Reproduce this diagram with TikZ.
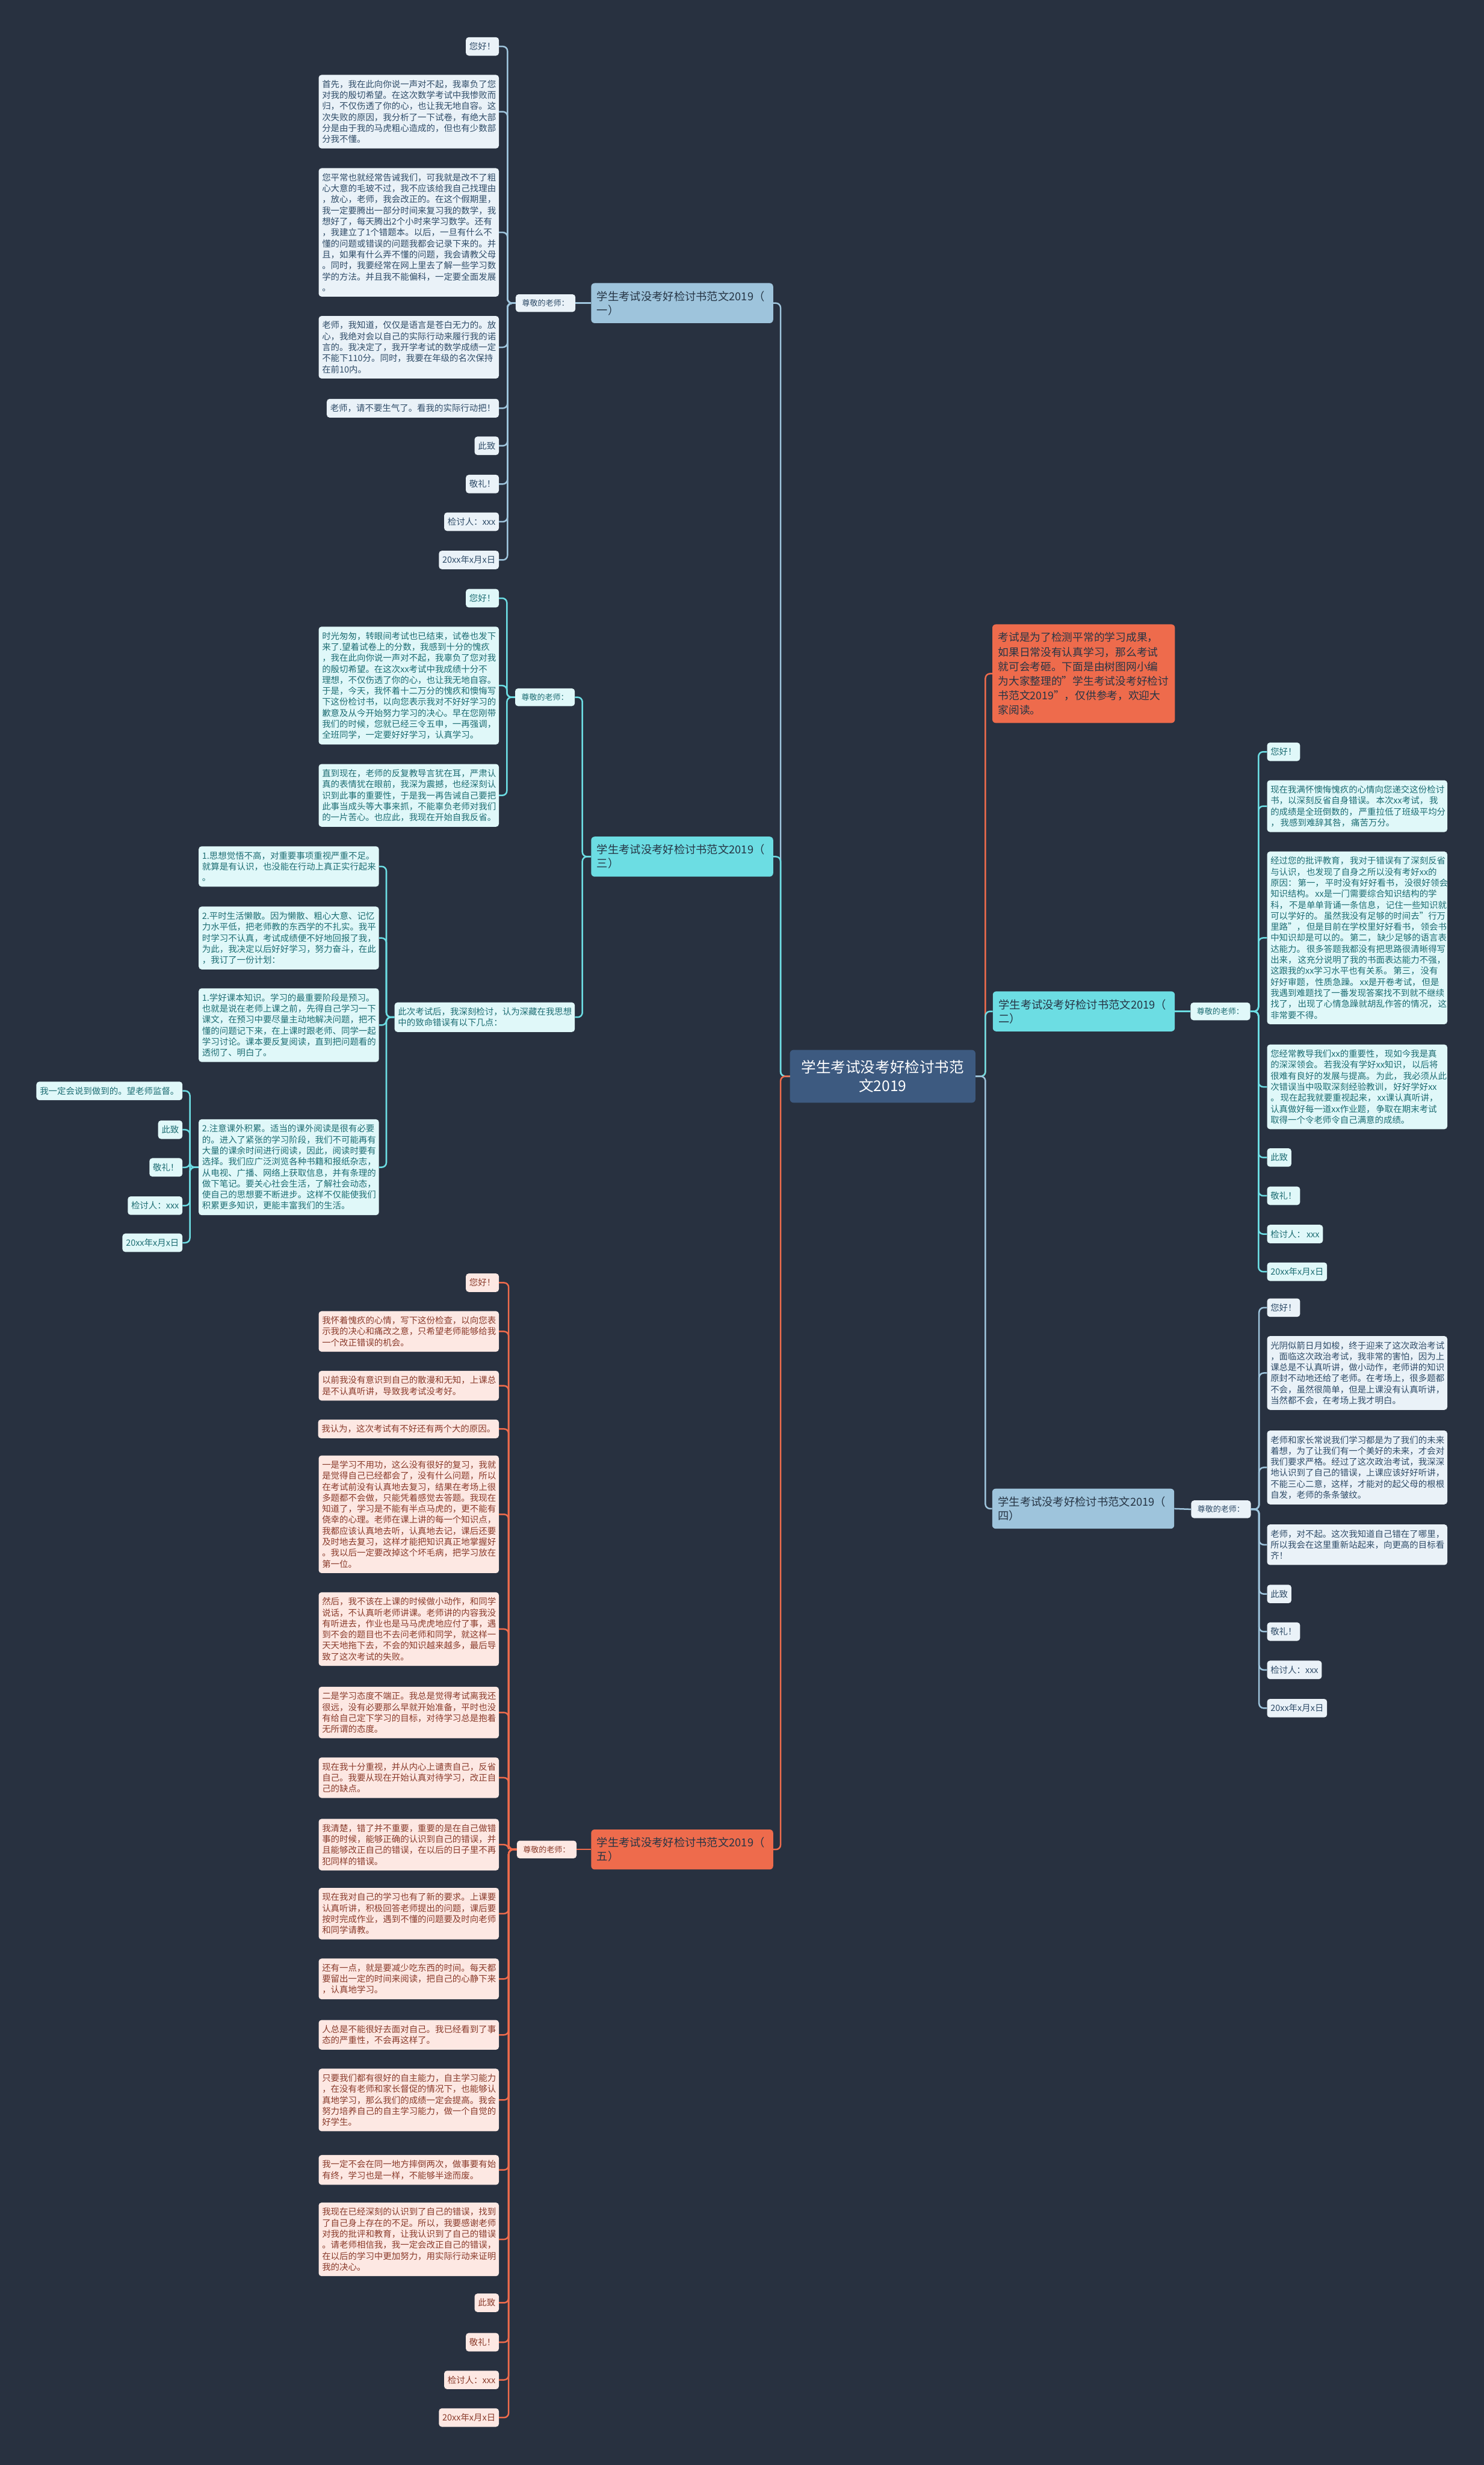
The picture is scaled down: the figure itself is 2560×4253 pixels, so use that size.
\documentclass[tikz,border=0pt]{standalone}
\usepackage{fontspec}
\setmainfont{Noto Sans CJK SC}

% --- 颜色 ---
\definecolor{bgdark}{HTML}{283140}
\definecolor{rootfill}{HTML}{3D5A80}
\definecolor{bluefill}{HTML}{9EC4DC}
\definecolor{blueleaf}{HTML}{EAF2F8}
\definecolor{blueink}{HTML}{2F4C68}
\definecolor{cyanfill}{HTML}{6CDDE3}
\definecolor{cyanleaf}{HTML}{E0F8F9}
\definecolor{cyanink}{HTML}{1D6D73}
\definecolor{redfill}{HTML}{EE6B4C}
\definecolor{redleaf}{HTML}{FDE8E3}
\definecolor{redink}{HTML}{8A3B2B}
\definecolor{darkink}{HTML}{263545}

% 标点后的小空隙
\newcommand{\pgap}{\kern2pt}

\tikzset{
  box/.style={rounded corners=5pt, inner xsep=6pt, inner ysep=9pt, align=left,
    font=\fontsize{15}{19}\selectfont},
  para/.style={text width=299pt},
  leafA/.style={box, fill=blueleaf, text=blueink},
  leafB/.style={box, fill=cyanleaf, text=cyanink},
  leafC/.style={box, fill=redleaf, text=redink},
  hubA/.style={leafA, inner xsep=11pt, font=\fontsize{13.5}{17}\selectfont},
  hubB/.style={leafB, inner xsep=11pt, font=\fontsize{13.5}{17}\selectfont},
  hubC/.style={leafC, inner xsep=11pt, font=\fontsize{13.5}{17}\selectfont},
  branch/.style={rounded corners=6pt, inner xsep=10pt, text width=294pt, minimum height=69pt,
    align=left, text=darkink, font=\fontsize{19}{24}\selectfont},
  linkA/.style={draw=bluefill, line width=2.6pt, rounded corners=8pt},
  linkB/.style={draw=cyanfill, line width=2.6pt, rounded corners=8pt},
  linkC/.style={draw=redfill, line width=2.6pt, rounded corners=8pt},
}

\begin{document}
\begin{tikzpicture}[x=1pt, y=-1pt]
  % --- 背景 ---
  \fill[bgdark] (0,0) rectangle (2560,4253);
  \useasboundingbox (0,0) rectangle (2560,4253);

  % --- 中心主题 ---
  \node[fill=rootfill, text=white, rounded corners=6pt, minimum width=320pt, minimum height=91pt,
    align=center, font=\fontsize{25.5}{33}\selectfont] (root) at (1523,1857)
    {学生考试没考好检讨书范\\文2019};

  % --- 引言 ---
  \node[fill=redfill, text=darkink, rounded corners=6pt, anchor=north west, inner xsep=10pt,
    inner ysep=14pt, text width=295pt, align=left, font=\fontsize{18.4}{25}\selectfont] (intro)
    at (1712,1077) {考试是为了检测平常的学习成果，\\如果日常没有认真学习，那么考试\\就可会考砸。下面是由树图网小编\\为大家整理的"学生考试没考好检讨\\书范文2019"，仅供参考，欢迎大\\家阅读。};

  % --- 五个分支 ---
  \node[branch, fill=bluefill] (one) at (1177,523) {学生考试没考好检讨书范文2019（\\一）};
  \node[branch, fill=cyanfill] (three) at (1177,1478) {学生考试没考好检讨书范文2019（\\三）};
  \node[branch, fill=redfill] (five) at (1177,3191) {学生考试没考好检讨书范文2019（\\五）};
  \node[branch, fill=cyanfill] (two) at (1870,1745) {学生考试没考好检讨书范文2019（\\二）};
  \node[branch, fill=bluefill] (four) at (1869,2603) {学生考试没考好检讨书范文2019（\\四）};

  % 中心到分支的连线
  \draw[linkA] (root.west) -- ++(-16,0) |- (one.east);
  \draw[linkB] (root.west) -- ++(-16,0) |- (three.east);
  \draw[linkC] (root.west) -- ++(-16,0) |- (five.east);
  \draw[linkC] (root.east) -- ++(17,0) |- (intro.west);
  \draw[linkB] (root.east) -- ++(17,0) |- (two.west);
  \draw[linkA] (root.east) -- ++(17,0) |- (four.west);

  % --- 分支（一） ---
  \node[hubA, anchor=east] (oneHub) at (993,523) {尊敬的老师：};
  \node[leafA, anchor=north east] (oneA) at (861,64) {您好！};
  \node[leafA, para, anchor=north east] (oneB) at (861,129) {首先，我在此向你说一声对不起，我辜负了您\\对我的殷切希望。在这次数学考试中我惨败而\\归，不仅伤透了你的心，也让我无地自容。这\\次失败的原因，我分析了一下试卷，有绝大部\\分是由于我的马虎粗心造成的，但也有少数部\\分我不懂。};
  \node[leafA, para, anchor=north east] (oneC) at (861,290) {您平常也就经常告诫我们，可我就是改不了粗\\心大意的毛玻不过，我不应该给我自己找理由\\，放心，老师，我会改正的。在这个假期里，\\我一定要腾出一部分时间来复习我的数学，我\\想好了，每天腾出2个小时来学习数学。还有\\，我建立了1个错题本。以后，一旦有什么不\\懂的问题或错误的问题我都会记录下来的。并\\且，如果有什么弄不懂的问题，我会请教父母\\。同时，我要经常在网上里去了解一些学习数\\学的方法。并且我不能偏科，一定要全面发展\\。};
  \node[leafA, para, anchor=north east] (oneD) at (861,545) {老师，我知道，仅仅是语言是苍白无力的。放\\心，我绝对会以自己的实际行动来履行我的诺\\言的。我决定了，我开学考试的数学成绩一定\\不能下110分。同时，我要在年级的名次保持\\在前10内。};
  \node[leafA, anchor=north east] (oneE) at (861,688) {老师，请不要生气了。看我的实际行动把！};
  \node[leafA, anchor=north east] (oneF) at (861,753) {此致};
  \node[leafA, anchor=north east] (oneG) at (861,819) {敬礼！};
  \node[leafA, anchor=north east] (oneH) at (861,884) {检讨人：xxx};
  \node[leafA, anchor=north east] (oneI) at (861,950) {20xx年x月x日};
  \draw[linkA] (one.west) -- (oneHub.east);
  \draw[linkA] (oneHub.west) -- ++(-14,0) |- (oneA.east);
  \draw[linkA] (oneHub.west) -- ++(-14,0) |- (oneB.east);
  \draw[linkA] (oneHub.west) -- ++(-14,0) |- (oneC.east);
  \draw[linkA] (oneHub.west) -- ++(-14,0) |- (oneD.east);
  \draw[linkA] (oneHub.west) -- ++(-14,0) |- (oneE.east);
  \draw[linkA] (oneHub.west) -- ++(-14,0) |- (oneF.east);
  \draw[linkA] (oneHub.west) -- ++(-14,0) |- (oneG.east);
  \draw[linkA] (oneHub.west) -- ++(-14,0) |- (oneH.east);
  \draw[linkA] (oneHub.west) -- ++(-14,0) |- (oneI.east);

  % --- 分支（三） ---
  \node[hubB, anchor=east] (threeHub) at (992,1203) {尊敬的老师：};
  \node[leafB, anchor=north east] (threeA) at (861,1016) {您好！};
  \node[leafB, para, anchor=north east] (threeB) at (861,1081) {时光匆匆，转眼间考试也已结束，试卷也发下\\来了.望着试卷上的分数，我感到十分的愧疚\\，我在此向你说一声对不起，我辜负了您对我\\的殷切希望。在这次xx考试中我成绩十分不\\理想，不仅伤透了你的心，也让我无地自容。\\于是，今天，我怀着十二万分的愧疚和懊悔写\\下这份检讨书，以向您表示我对不好好学习的\\歉意及从今开始努力学习的决心。早在您刚带\\我们的时候，您就已经三令五申，一再强调，\\全班同学，一定要好好学习，认真学习。};
  \node[leafB, para, anchor=north east] (threeC) at (861,1318) {直到现在，老师的反复教导言犹在耳，严肃认\\真的表情犹在眼前，我深为震撼，也经深刻认\\识到此事的重要性，于是我一再告诫自己要把\\此事当成头等大事来抓，不能辜负老师对我们\\的一片苦心。也应此，我现在开始自我反省。};
  \node[leafB, para, anchor=east] (threeNote) at (992,1755) {此次考试后，我深刻检讨，认为深藏在我思想\\中的致命错误有以下几点：};
  \node[leafB, para, anchor=north east] (threeD) at (654,1460) {1.思想觉悟不高，对重要事项重视严重不足。\\就算是有认识，也没能在行动上真正实行起来\\。};
  \node[leafB, para, anchor=north east] (threeE) at (654,1564) {2.平时生活懒散。因为懒散、粗心大意、记忆\\力水平低，把老师教的东西学的不扎实。我平\\时学习不认真，考试成绩便不好地回报了我，\\为此，我决定以后好好学习，努力奋斗，在此\\，我订了一份计划：};
  \node[leafB, para, anchor=north east] (threeF) at (654,1705) {1.学好课本知识。学习的最重要阶段是预习。\\也就是说在老师上课之前，先得自己学习一下\\课文，在预习中要尽量主动地解决问题，把不\\懂的问题记下来，在上课时跟老师、同学一起\\学习讨论。课本要反复阅读，直到把问题看的\\透彻了、明白了。};
  \node[leafB, para, anchor=north east] (threeG) at (654,1931) {2.注意课外积累。适当的课外阅读是很有必要\\的。进入了紧张的学习阶段，我们不可能再有\\大量的课余时间进行阅读，因此，阅读时要有\\选择。我们应广泛浏览各种书籍和报纸杂志，\\从电视、广播、网络上获取信息，并有条理的\\做下笔记。要关心社会生活，了解社会动态，\\使自己的思想要不断进步。这样不仅能使我们\\积累更多知识，更能丰富我们的生活。};
  \node[leafB, anchor=north east] (threeH) at (315,1866) {我一定会说到做到的。望老师监督。};
  \node[leafB, anchor=north east] (threeI) at (315,1933) {此致};
  \node[leafB, anchor=north east] (threeJ) at (315,1998) {敬礼！};
  \node[leafB, anchor=north east] (threeK) at (315,2064) {检讨人：xxx};
  \node[leafB, anchor=north east] (threeL) at (315,2128) {20xx年x月x日};
  \draw[linkB] (three.west) -- ++(-15,0) |- (threeHub.east);
  \draw[linkB] (three.west) -- ++(-15,0) |- (threeNote.east);
  \draw[linkB] (threeHub.west) -- ++(-14,0) |- (threeA.east);
  \draw[linkB] (threeHub.west) -- ++(-14,0) |- (threeB.east);
  \draw[linkB] (threeHub.west) -- ++(-14,0) |- (threeC.east);
  \draw[linkB] (threeNote.west) -- ++(-14,0) |- (threeD.east);
  \draw[linkB] (threeNote.west) -- ++(-14,0) |- (threeE.east);
  \draw[linkB] (threeNote.west) -- ++(-14,0) |- (threeF.east);
  \draw[linkB] (threeNote.west) -- ++(-14,0) |- (threeG.east);
  \draw[linkB] (threeG.west) -- ++(-15,0) |- (threeH.east);
  \draw[linkB] (threeG.west) -- ++(-15,0) |- (threeI.east);
  \draw[linkB] (threeG.west) -- ++(-15,0) |- (threeJ.east);
  \draw[linkB] (threeG.west) -- ++(-15,0) |- (threeK.east);
  \draw[linkB] (threeG.west) -- ++(-15,0) |- (threeL.east);

  % --- 分支（五） ---
  \node[hubC, anchor=east] (fiveHub) at (995,3191) {尊敬的老师：};
  \node[leafC, anchor=north east] (fiveA) at (861,2197) {您好！};
  \node[leafC, para, anchor=north east] (fiveB) at (861,2262) {我怀着愧疚的心情，写下这份检查，以向您表\\示我的决心和痛改之意，只希望老师能够给我\\一个改正错误的机会。};
  \node[leafC, para, anchor=north east] (fiveC) at (861,2365) {以前我没有意识到自己的散漫和无知，上课总\\是不认真听讲，导致我考试没考好。};
  \node[leafC, anchor=north east] (fiveD) at (861,2449) {我认为，这次考试有不好还有两个大的原因。};
  \node[leafC, para, anchor=north east] (fiveE) at (861,2511) {一是学习不用功，这么没有很好的复习，我就\\是觉得自己已经都会了，没有什么问题，所以\\在考试前没有认真地去复习，结果在考场上很\\多题都不会做，只能凭着感觉去答题。我现在\\知道了，学习是不能有半点马虎的，更不能有\\侥幸的心理。老师在课上讲的每一个知识点，\\我都应该认真地去听，认真地去记，课后还要\\及时地去复习，这样才能把知识真正地掌握好\\。我以后一定要改掉这个坏毛病，把学习放在\\第一位。};
  \node[leafC, para, anchor=north east] (fiveF) at (861,2747) {然后，我不该在上课的时候做小动作，和同学\\说话，不认真听老师讲课。老师讲的内容我没\\有听进去，作业也是马马虎虎地应付了事，遇\\到不会的题目也不去问老师和同学，就这样一\\天天地拖下去，不会的知识越来越多，最后导\\致了这次考试的失败。};
  \node[leafC, para, anchor=north east] (fiveG) at (861,2910) {二是学习态度不端正。我总是觉得考试离我还\\很远，没有必要那么早就开始准备，平时也没\\有给自己定下学习的目标，对待学习总是抱着\\无所谓的态度。};
  \node[leafC, para, anchor=north east] (fiveH) at (861,3032) {现在我十分重视，并从内心上谴责自己，反省\\自己。我要从现在开始认真对待学习，改正自\\己的缺点。};
  \node[leafC, para, anchor=north east] (fiveI) at (861,3138) {我清楚，错了并不重要，重要的是在自己做错\\事的时候，能够正确的认识到自己的错误，并\\且能够改正自己的错误，在以后的日子里不再\\犯同样的错误。};
  \node[leafC, para, anchor=north east] (fiveJ) at (861,3257) {现在我对自己的学习也有了新的要求。上课要\\认真听讲，积极回答老师提出的问题，课后要\\按时完成作业，遇到不懂的问题要及时向老师\\和同学请教。};
  \node[leafC, para, anchor=north east] (fiveK) at (861,3379) {还有一点，就是要减少吃东西的时间。每天都\\要留出一定的时间来阅读，把自己的心静下来\\，认真地学习。};
  \node[leafC, para, anchor=north east] (fiveL) at (861,3485) {人总是不能很好去面对自己。我已经看到了事\\态的严重性，不会再这样了。};
  \node[leafC, para, anchor=north east] (fiveM) at (861,3569) {只要我们都有很好的自主能力，自主学习能力\\，在没有老师和家长督促的情况下，也能够认\\真地学习，那么我们的成绩一定会提高。我会\\努力培养自己的自主学习能力，做一个自觉的\\好学生。};
  \node[leafC, para, anchor=north east] (fiveN) at (861,3718) {我一定不会在同一地方摔倒两次，做事要有始\\有终，学习也是一样，不能够半途而废。};
  \node[leafC, para, anchor=north east] (fiveO) at (861,3800) {我现在已经深刻的认识到了自己的错误，找到\\了自己身上存在的不足。所以，我要感谢老师\\对我的批评和教育，让我认识到了自己的错误\\。请老师相信我，我一定会改正自己的错误，\\在以后的学习中更加努力，用实际行动来证明\\我的决心。};
  \node[leafC, anchor=north east] (fiveP) at (861,3957) {此致};
  \node[leafC, anchor=north east] (fiveQ) at (861,4025) {敬礼！};
  \node[leafC, anchor=north east] (fiveR) at (861,4090) {检讨人：xxx};
  \node[leafC, anchor=north east] (fiveS) at (861,4155) {20xx年x月x日};
  \draw[linkC] (five.west) -- (fiveHub.east);
  \draw[linkC] (fiveHub.west) -- ++(-14,0) |- (fiveA.east);
  \draw[linkC] (fiveHub.west) -- ++(-14,0) |- (fiveB.east);
  \draw[linkC] (fiveHub.west) -- ++(-14,0) |- (fiveC.east);
  \draw[linkC] (fiveHub.west) -- ++(-14,0) |- (fiveD.east);
  \draw[linkC] (fiveHub.west) -- ++(-14,0) |- (fiveE.east);
  \draw[linkC] (fiveHub.west) -- ++(-14,0) |- (fiveF.east);
  \draw[linkC] (fiveHub.west) -- ++(-14,0) |- (fiveG.east);
  \draw[linkC] (fiveHub.west) -- ++(-14,0) |- (fiveH.east);
  \draw[linkC] (fiveHub.west) -- ++(-14,0) |- (fiveI.east);
  \draw[linkC] (fiveHub.west) -- ++(-14,0) |- (fiveJ.east);
  \draw[linkC] (fiveHub.west) -- ++(-14,0) |- (fiveK.east);
  \draw[linkC] (fiveHub.west) -- ++(-14,0) |- (fiveL.east);
  \draw[linkC] (fiveHub.west) -- ++(-14,0) |- (fiveM.east);
  \draw[linkC] (fiveHub.west) -- ++(-14,0) |- (fiveN.east);
  \draw[linkC] (fiveHub.west) -- ++(-14,0) |- (fiveO.east);
  \draw[linkC] (fiveHub.west) -- ++(-14,0) |- (fiveP.east);
  \draw[linkC] (fiveHub.west) -- ++(-14,0) |- (fiveQ.east);
  \draw[linkC] (fiveHub.west) -- ++(-14,0) |- (fiveR.east);
  \draw[linkC] (fiveHub.west) -- ++(-14,0) |- (fiveS.east);

  % --- 分支（二） ---
  \node[hubB, anchor=west] (twoHub) at (2054,1745) {尊敬的老师：};
  \node[leafB, anchor=north west] (twoA) at (2186,1281) {您好！};
  \node[leafB, para, anchor=north west] (twoB) at (2186,1346) {现在我满怀懊悔愧疚的心情向您递交这份检讨\\书，以深刻反省自身错误。\pgap 本次xx考试，\pgap 我\\的成绩是全班倒数的，\pgap 严重拉低了班级平均分\\，\pgap 我感到难辞其咎，\pgap 痛苦万分。};
  \node[leafB, para, anchor=north west] (twoC) at (2186,1469) {经过您的批评教育，\pgap 我对于错误有了深刻反省\\与认识，\pgap 也发现了自身之所以没有考好xx的\\原因：\pgap 第一，\pgap 平时没有好好看书，\pgap 没很好领会\\知识结构。\pgap xx是一门需要综合知识结构的学\\科，\pgap 不是单单背诵一条信息，\pgap 记住一些知识就\\可以学好的。\pgap 虽然我没有足够的时间去"行万\\里路"，\pgap 但是目前在学校里好好看书，\pgap 领会书\\中知识却是可以的。\pgap 第二，\pgap 缺少足够的语言表\\达能力。\pgap 很多答题我都没有把思路很清晰得写\\出来，\pgap 这充分说明了我的书面表达能力不强，\\这跟我的xx学习水平也有关系。\pgap 第三，\pgap 没有\\好好审题，\pgap 性质急躁。\pgap xx是开卷考试，\pgap 但是\\我遇到难题找了一番发现答案找不到就不继续\\找了，\pgap 出现了心情急躁就胡乱作答的情况，\pgap 这\\非常要不得。};
  \node[leafB, para, anchor=north west] (twoD) at (2186,1802) {您经常教导我们xx的重要性，\pgap 现如今我是真\\的深深领会。\pgap 若我没有学好xx知识，\pgap 以后将\\很难有良好的发展与提高。\pgap 为此，\pgap 我必须从此\\次错误当中吸取深刻经验教训，\pgap 好好学好xx\\。\pgap 现在起我就要重视起来，\pgap xx课认真听讲，\\认真做好每一道xx作业题，\pgap 争取在期末考试\\取得一个令老师令自己满意的成绩。};
  \node[leafB, anchor=north west] (twoE) at (2186,1981) {此致};
  \node[leafB, anchor=north west] (twoF) at (2186,2047) {敬礼！};
  \node[leafB, anchor=north west] (twoG) at (2186,2113) {检讨人：\pgap xxx};
  \node[leafB, anchor=north west] (twoH) at (2186,2178) {20xx年x月x日};
  \draw[linkB] (two.east) -- (twoHub.west);
  \draw[linkB] (twoHub.east) -- ++(14,0) |- (twoA.west);
  \draw[linkB] (twoHub.east) -- ++(14,0) |- (twoB.west);
  \draw[linkB] (twoHub.east) -- ++(14,0) |- (twoC.west);
  \draw[linkB] (twoHub.east) -- ++(14,0) |- (twoD.west);
  \draw[linkB] (twoHub.east) -- ++(14,0) |- (twoE.west);
  \draw[linkB] (twoHub.east) -- ++(14,0) |- (twoF.west);
  \draw[linkB] (twoHub.east) -- ++(14,0) |- (twoG.west);
  \draw[linkB] (twoHub.east) -- ++(14,0) |- (twoH.west);

  % --- 分支（四） ---
  \node[hubA, anchor=west] (fourHub) at (2055,2604) {尊敬的老师：};
  \node[leafA, anchor=north west] (fourA) at (2186,2240) {您好！};
  \node[leafA, para, anchor=north west] (fourB) at (2186,2305) {光阴似箭日月如梭，终于迎来了这次政治考试\\，面临这次政治考试，我非常的害怕，因为上\\课总是不认真听讲，做小动作，老师讲的知识\\原封不动地还给了老师。在考场上，很多题都\\不会，虽然很简单，但是上课没有认真听讲，\\当然都不会，在考场上我才明白。};
  \node[leafA, para, anchor=north west] (fourC) at (2186,2468) {老师和家长常说我们学习都是为了我们的未来\\着想，为了让我们有一个美好的未来，才会对\\我们要求严格。经过了这次政治考试，我深深\\地认识到了自己的错误，上课应该好好听讲，\\不能三心二意，这样，才能对的起父母的根根\\自发，老师的条条皱纹。};
  \node[leafA, para, anchor=north west] (fourD) at (2186,2630) {老师，对不起。这次我知道自己错在了哪里，\\所以我会在这里重新站起来，向更高的目标看\\齐！};
  \node[leafA, anchor=north west] (fourE) at (2186,2734) {此致};
  \node[leafA, anchor=north west] (fourF) at (2186,2799) {敬礼！};
  \node[leafA, anchor=north west] (fourG) at (2186,2865) {检讨人：xxx};
  \node[leafA, anchor=north west] (fourH) at (2186,2931) {20xx年x月x日};
  \draw[linkA] (four.east) -- (fourHub.west);
  \draw[linkA] (fourHub.east) -- ++(14,0) |- (fourA.west);
  \draw[linkA] (fourHub.east) -- ++(14,0) |- (fourB.west);
  \draw[linkA] (fourHub.east) -- ++(14,0) |- (fourC.west);
  \draw[linkA] (fourHub.east) -- ++(14,0) |- (fourD.west);
  \draw[linkA] (fourHub.east) -- ++(14,0) |- (fourE.west);
  \draw[linkA] (fourHub.east) -- ++(14,0) |- (fourF.west);
  \draw[linkA] (fourHub.east) -- ++(14,0) |- (fourG.west);
  \draw[linkA] (fourHub.east) -- ++(14,0) |- (fourH.west);
\end{tikzpicture}
\end{document}
